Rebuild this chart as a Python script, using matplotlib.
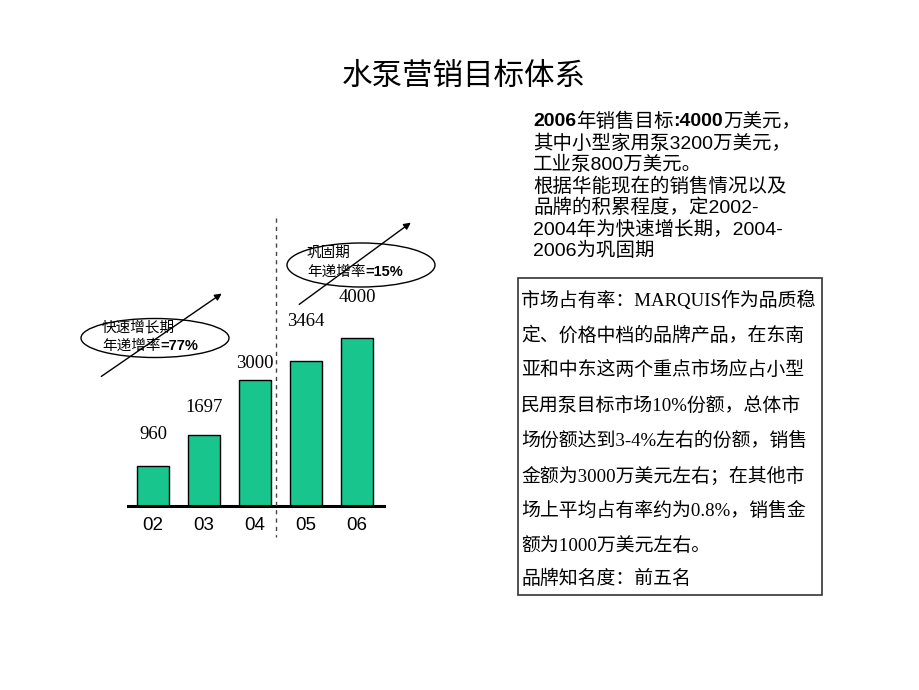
#!/usr/bin/env python3
"""Water pump sales target chart (水泵营销目标体系)."""

import matplotlib

matplotlib.use("Agg")
import matplotlib.pyplot as plt
from matplotlib.patches import Ellipse, Rectangle

plt.rcParams["font.family"] = ["Noto Sans CJK SC", "DejaVu Sans"]

years = ["02", "03", "04", "05", "06"]
sales = [960, 1697, 3000, 3464, 4000]

title = "水泵营销目标体系"
fast_phase = ["快速增长期", "年递增率", "=77%"]
hold_phase = ["巩固期", "年递增率", "=15%"]

target_lines = [
    "其中小型家用泵3200万美元，",
    "工业泵800万美元。",
    "根据华能现在的销售情况以及",
    "品牌的积累程度，定2002-",
    "2004年为快速增长期，2004-",
    "2006为巩固期",
]
box_lines = [
    "市场占有率：MARQUIS作为品质稳",
    "定、价格中档的品牌产品，在东南",
    "亚和中东这两个重点市场应占小型",
    "民用泵目标市场10%份额，总体市",
    "场份额达到3-4%左右的份额，销售",
    "金额为3000万美元左右；在其他市",
    "场上平均占有率约为0.8%，销售金",
    "额为1000万美元左右。",
    "品牌知名度：前五名",
]

W, H = 920, 690
SANS = ["Liberation Sans", "Noto Sans CJK SC"]
SERIF = ["Liberation Serif", "Noto Sans CJK SC"]
BAR_COLOR = "#17C58D"
# label gap above each bar, in px (the source labels are not evenly placed)
label_gap = [31, 27, 17, 39, 41]


def px_box(x0, y0, x1, y1):
    return [x0 / W, 1 - y1 / H, (x1 - x0) / W, (y1 - y0) / H]


def main() -> None:
    fig = plt.figure(figsize=(9.2, 6.9), dpi=100)

    # bar chart
    ax = fig.add_axes(px_box(128, 200, 384, 506))
    x = list(range(len(years)))
    ax.bar(x, sales, width=0.63, color=BAR_COLOR, edgecolor="black", linewidth=1.0, zorder=2)
    ax.set_xlim(-0.49, 4.53)
    ax.set_ylim(0, 306 / 0.042)
    for side in ("top", "right", "left"):
        ax.spines[side].set_visible(False)
    ax.spines["bottom"].set_linewidth(2.2)
    ax.spines["bottom"].set_zorder(3)
    ax.set_yticks([])
    ax.set_xticks(x)
    ax.set_xticklabels(years, family=SANS, fontsize=13.5)
    ax.tick_params(axis="x", length=0, pad=8)
    ax.patch.set_visible(False)
    for xi, val, gap in zip(x, sales, label_gap):
        ax.annotate(
            str(val), (xi, val), xytext=(0, gap * 0.72), textcoords="offset points",
            ha="center", va="center", family=SERIF, fontsize=13.5,
        )

    # overlay in pixel coordinates
    ov = fig.add_axes([0, 0, 1, 1])
    ov.set_xlim(0, W)
    ov.set_ylim(H, 0)
    ov.axis("off")
    ov.patch.set_visible(False)

    ov.text(464, 76, title, ha="center", va="center", fontsize=22)

    # divider between phases
    ov.plot([276, 276], [218, 537], color="#444444", linewidth=1.0, linestyle=(0, (3, 3)))

    # phase annotations
    ov.add_patch(Ellipse((155, 338), 148, 39, fill=False, edgecolor="black", linewidth=1.0))
    ov.text(102, 327, fast_phase[0], ha="left", va="center", fontsize=10.5)
    t = ov.text(102, 346, fast_phase[1], ha="left", va="center", fontsize=10.5)
    ov.annotate(fast_phase[2], xy=(1, 0.5), xycoords=t, ha="left", va="center",
                family=SANS, fontsize=10.5, fontweight="bold")
    ov.annotate("", xy=(224, 292), xytext=(99, 378),
                arrowprops=dict(arrowstyle="-|>", color="black", lw=1.0, mutation_scale=10))

    ov.add_patch(Ellipse((361, 265), 148, 44, fill=False, edgecolor="black", linewidth=1.0))
    ov.text(307, 253, hold_phase[0], ha="left", va="center", fontsize=10.5)
    t = ov.text(307, 272, hold_phase[1], ha="left", va="center", fontsize=10.5)
    ov.annotate(hold_phase[2], xy=(1, 0.5), xycoords=t, ha="left", va="center",
                family=SANS, fontsize=10.5, fontweight="bold")
    ov.annotate("", xy=(413, 221), xytext=(297, 306),
                arrowprops=dict(arrowstyle="-|>", color="black", lw=1.0, mutation_scale=10))

    # sales target text (first line mixes bold and regular)
    pieces = [("2006", "bold"), ("年销售目标", "normal"), (":4000", "bold"), ("万美元，", "normal")]
    prev = None
    for txt, weight in pieces:
        if prev is None:
            prev = ov.text(533, 122, txt, ha="left", va="center", family=SANS,
                           fontsize=14, fontweight=weight)
        else:
            prev = ov.annotate(txt, xy=(1, 0.5), xycoords=prev, ha="left", va="center",
                               family=SANS, fontsize=14, fontweight=weight)
    for i, line in enumerate(target_lines):
        ov.text(533, 143.5 + i * 21.5, line, ha="left", va="center", family=SANS, fontsize=14)

    # market share box
    ov.add_patch(Rectangle((518, 278), 304, 317, fill=False, edgecolor="#333333", linewidth=1.2))
    for i, line in enumerate(box_lines):
        y = 300 + i * 35.2 if i < 8 else 579
        ov.text(521, y, line, ha="left", va="center", family=SERIF, fontsize=13.6)

    fig.savefig("out.png", dpi=100)
    plt.close(fig)


if __name__ == "__main__":
    main()
